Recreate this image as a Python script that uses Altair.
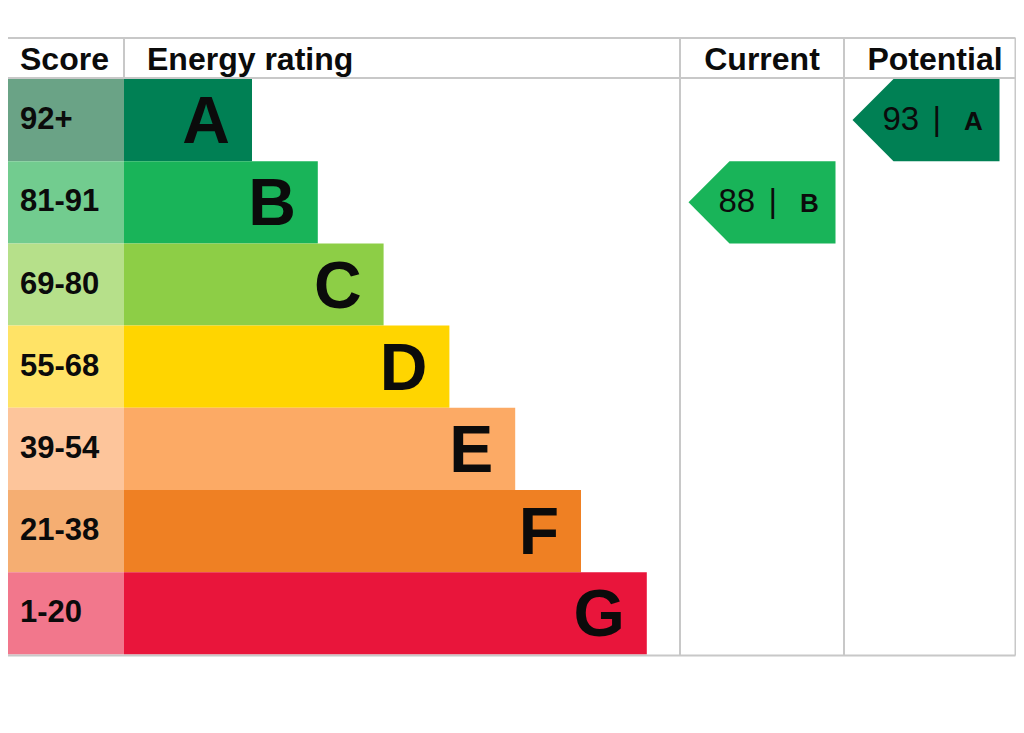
import altair as alt
import pandas as pd

# ---------------- data ----------------
ratings = ["A", "B", "C", "D", "E", "F", "G"]
score_ranges = ["92+", "81-91", "69-80", "55-68", "39-54", "21-38", "1-20"]
band_min = [92, 81, 69, 55, 39, 21, 1]
bar_colors = ["#008054", "#19b459", "#8dce46", "#ffd500", "#fcaa65", "#ef8023", "#e9153b"]
score_colors = ["#6aa386", "#72cc8f", "#b6e08a", "#ffe366", "#fdc59b", "#f5ae72", "#f2778c"]
headers = ["Score", "Energy rating", "Current", "Potential"]
current_score = 88
potential_score = 93

# ---------------- layout ----------------
LEFT, SCORE_R, ENERGY_R, CURRENT_R, RIGHT = 7, 124, 680, 844, 1015.5
HEAD_TOP, HEAD_BOT = 38, 78
ROW0, ROW_H = 79, 82.2
BOTTOM = ROW0 + 7 * ROW_H + 1
BAR0, BAR_STEP = 128, 65.8
ARROW_INSET, ARROW_W, TIP = 8.5, 147, 41
FONT = "Liberation Sans"
GRID = "#c8c8c8"
INK = "#0b0b0b"

W, H = 1008, 700
xs = alt.Scale(domain=[8, 8 + W])
ys = alt.Scale(domain=[8, 8 + H], reverse=True)


def X(f, **kw):
    return alt.X(f, type="quantitative", scale=xs, axis=None, **kw)


def Y(f, **kw):
    return alt.Y(f, type="quantitative", scale=ys, axis=None, **kw)


rows = pd.DataFrame({
    "rating": ratings,
    "score": score_ranges,
    "color": bar_colors,
    "scolor": score_colors,
})
rows["i"] = range(len(rows))
rows["top"] = ROW0 + rows["i"] * ROW_H
rows["bot"] = rows["top"] + ROW_H
rows["cy"] = rows["top"] + ROW_H / 2
rows["left"] = LEFT
rows["sr"] = SCORE_R
rows["xend"] = SCORE_R + BAR0 + rows["i"] * BAR_STEP
rows["letter_x"] = rows["xend"] - 22
rows["letter_y"] = rows["cy"] + 23
rows["score_x"] = 20
rows["score_y"] = rows["cy"] + 9

score_cells = alt.Chart(rows).mark_rect().encode(
    x=X("left"), x2="sr", y=Y("top"), y2="bot",
    color=alt.Color("scolor:N", scale=None))
bars = alt.Chart(rows).mark_rect().encode(
    x=X("sr"), x2="xend", y=Y("top"), y2="bot",
    color=alt.Color("color:N", scale=None))
letters = alt.Chart(rows).mark_text(
    align="right", baseline="alphabetic", font=FONT, fontWeight="bold",
    fontSize=66, color=INK).encode(
    x=X("letter_x"), y=Y("letter_y"), text="rating:N")
score_text = alt.Chart(rows).mark_text(
    align="left", baseline="alphabetic", font=FONT, fontWeight="bold",
    fontSize=31, color=INK).encode(
    x=X("score_x"), y=Y("score_y"), text="score:N")

# header
head = pd.DataFrame({
    "text": headers,
    "x": [20, 147, 762, 935],
    "align": ["left", "left", "center", "center"],
})
head["y"] = 70
head_left = alt.Chart(head[head["align"] == "left"]).mark_text(
    align="left", baseline="alphabetic", font=FONT, fontWeight="bold",
    fontSize=32, color=INK).encode(x=X("x"), y=Y("y"), text="text:N")
head_center = alt.Chart(head[head["align"] == "center"]).mark_text(
    align="center", baseline="alphabetic", font=FONT, fontWeight="bold",
    fontSize=32, color=INK).encode(x=X("x"), y=Y("y"), text="text:N")

# grid lines
lines = pd.DataFrame([
    (LEFT, RIGHT, HEAD_TOP, HEAD_TOP),
    (LEFT, RIGHT, HEAD_BOT, HEAD_BOT),
    (LEFT, RIGHT, BOTTOM, BOTTOM),
    (LEFT, LEFT, HEAD_TOP, BOTTOM),
    (SCORE_R, SCORE_R, HEAD_TOP, HEAD_BOT),
    (ENERGY_R, ENERGY_R, HEAD_TOP, BOTTOM),
    (CURRENT_R, CURRENT_R, HEAD_TOP, BOTTOM),
    (RIGHT, RIGHT, HEAD_TOP, BOTTOM),
], columns=["x1", "x2", "y1", "y2"])
grid = alt.Chart(lines).mark_rule(color=GRID, strokeWidth=2).encode(
    x=X("x1"), x2="x2", y=Y("y1"), y2="y2")


# arrows
def band_of(v):
    for i, m in enumerate(band_min):
        if v >= m:
            return i
    return len(band_min) - 1


pts = []
labels = []
for name, val, col_left in [("current", current_score, ENERGY_R),
                            ("potential", potential_score, CURRENT_R)]:
    i = band_of(val)
    top = ROW0 + i * ROW_H
    bot = top + ROW_H
    cy = top + ROW_H / 2
    left = col_left + ARROW_INSET
    body = left + TIP
    right = left + ARROW_W
    c = bar_colors[i]
    pts += [
        {"arrow": name, "x": left, "y": cy, "y2": cy, "color": c},
        {"arrow": name, "x": body, "y": top, "y2": bot, "color": c},
        {"arrow": name, "x": right, "y": top, "y2": bot, "color": c},
    ]
    labels.append({"arrow": name, "num": str(val), "nx": body - 11,
                   "sep": "|", "sx": body + 39,
                   "letter": ratings[i], "lx": body + 80, "ty": cy + 10})
pts = pd.DataFrame(pts)
labels = pd.DataFrame(labels)

arrows = alt.Chart(pts).mark_area(interpolate="linear").encode(
    x=X("x"), y=Y("y"), y2="y2", detail="arrow:N",
    color=alt.Color("color:N", scale=None))
arrow_num = alt.Chart(labels).mark_text(
    align="left", baseline="alphabetic", font=FONT, fontSize=33,
    color=INK).encode(x=X("nx"), y=Y("ty"), text="num:N")
arrow_sep = alt.Chart(labels).mark_text(
    align="left", baseline="alphabetic", font=FONT, fontSize=33,
    color=INK).encode(x=X("sx"), y=Y("ty"), text="sep:N")
arrow_letter = alt.Chart(labels).mark_text(
    align="center", baseline="alphabetic", font=FONT, fontWeight="bold",
    fontSize=26, color=INK).encode(x=X("lx"), y=Y("ty"), text="letter:N")

chart = alt.layer(
    score_cells, bars, grid, letters, score_text, head_left, head_center,
    arrows, arrow_num, arrow_sep, arrow_letter
).properties(
    width=W, height=H, padding=0, autosize="none"
).configure_view(stroke=None)

chart.save("out.html", embed_options={"renderer": "svg", "actions": False})
